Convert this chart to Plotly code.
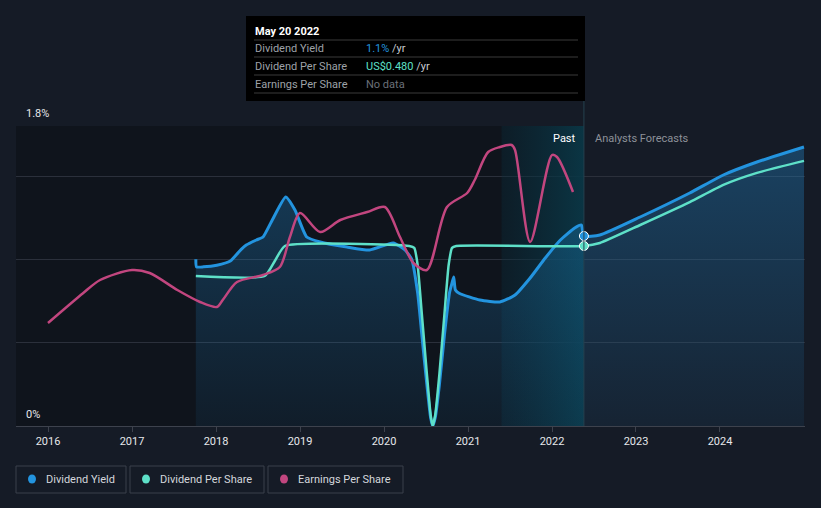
import plotly.graph_objects as go

# ---------------- data ----------------
years = [2016, 2017, 2018, 2019, 2020, 2021, 2022, 2023, 2024]
year_labels = [str(y) for y in years]

# Dividend Yield (%), past + forecast
dy_x = [2017.76, 2017.768, 2017.85, 2018.01, 2018.17, 2018.30, 2018.36, 2018.48, 2018.56,
        2018.67, 2018.83, 2018.94, 2019.08, 2019.24, 2019.56, 2019.83, 2020.11,
        2020.25, 2020.33, 2020.40, 2020.45, 2020.51, 2020.555, 2020.58, 2020.61,
        2020.66, 2020.72, 2020.78, 2020.81, 2020.83, 2020.85, 2020.90, 2021.14,
        2021.38, 2021.56, 2021.74, 2021.92, 2022.10, 2022.27, 2022.35, 2022.38,
        2022.57, 2023.05, 2023.64, 2024.04, 2024.44, 2025.0]
dy_y = [1.00, 0.955, 0.955, 0.965, 0.99, 1.06, 1.086, 1.116, 1.134,
        1.236, 1.374, 1.296, 1.134, 1.104, 1.074, 1.056, 1.098,
        1.056, 1.00, 0.80, 0.55, 0.25, 0.05, 0.0, 0.05,
        0.25, 0.55, 0.80, 0.858, 0.894, 0.816, 0.795, 0.756,
        0.744, 0.786, 0.888, 1.008, 1.116, 1.188, 1.206, 1.14,
        1.146, 1.254, 1.398, 1.506, 1.584, 1.674]

# Dividend Per Share (US$)
dps_x = [2017.76, 2018.58, 2018.70, 2018.82, 2020.30, 2020.36, 2020.40, 2020.45, 2020.51,
         2020.555, 2020.58, 2020.61, 2020.66, 2020.72, 2020.77, 2020.81, 2020.86, 2022.38,
         2022.57, 2023.05, 2023.64, 2024.04, 2024.44, 2025.0]
dps_y = [0.40, 0.40, 0.44, 0.48, 0.48, 0.475, 0.43, 0.30, 0.14,
         0.03, 0.0, 0.03, 0.14, 0.30, 0.43, 0.475, 0.48, 0.48,
         0.488, 0.536, 0.597, 0.643, 0.675, 0.707]

# Earnings Per Share (relative scale)
eps_x = [2016.0, 2016.42, 2016.62, 2017.0, 2017.21, 2017.54, 2017.81, 2018.01, 2018.08,
         2018.25, 2018.56, 2018.76, 2018.88, 2019.0, 2019.24, 2019.48, 2019.80, 2020.01,
         2020.19, 2020.35, 2020.51, 2020.75, 2020.99, 2021.08, 2021.24, 2021.38, 2021.52,
         2021.56, 2021.74, 2022.0, 2022.06, 2022.25]
eps_y = [0.618, 0.798, 0.876, 0.936, 0.918, 0.816, 0.744, 0.714, 0.756,
         0.864, 0.906, 0.954, 1.134, 1.278, 1.164, 1.236, 1.284, 1.314,
         1.134, 0.978, 0.936, 1.314, 1.398, 1.476, 1.644, 1.674, 1.686,
         1.656, 1.104, 1.626, 1.614, 1.404]

today = 2022.38
past_band_start = 2021.40
x_min, x_max = 2015.619, 2025.012

BLUE = "#2394df"
TEAL = "#5ee0c8"
PINK = "#c2467f"
BG = "#151b26"
PAST_BG = "#0f141c"

def PX(px):
    return (px - 16) / 789.0

def PY(py):
    return (426 - py) / 300.0

fig = go.Figure()

# past highlight band (gradient)
fig.add_trace(go.Scatter(
    x=[past_band_start, today, today, past_band_start, past_band_start],
    y=[0, 0, 1.8, 1.8, 0], mode="lines", line=dict(width=0),
    fill="toself",
    fillgradient=dict(type="horizontal",
                      colorscale=[[0, "rgba(10,45,60,0.35)"], [1, "rgba(10,55,70,0.95)"]]),
    hoverinfo="skip", showlegend=False))

# Dividend yield with gradient fill
fig.add_trace(go.Scatter(
    x=dy_x, y=dy_y, mode="lines", name="Dividend Yield",
    line=dict(color=BLUE, width=3, shape="spline", smoothing=0.5),
    fill="tozeroy",
    fillgradient=dict(type="vertical",
                      colorscale=[[0, "rgba(35,148,223,0.07)"], [1, "rgba(35,148,223,0.32)"]]),
    hoverinfo="skip", showlegend=False))

# EPS
fig.add_trace(go.Scatter(
    x=eps_x, y=eps_y, mode="lines", name="Earnings Per Share", yaxis="y3",
    line=dict(color=PINK, width=2.5, shape="spline", smoothing=0.8),
    hoverinfo="skip", showlegend=False))

# DPS
fig.add_trace(go.Scatter(
    x=dps_x, y=dps_y, mode="lines", name="Dividend Per Share", yaxis="y2",
    line=dict(color=TEAL, width=2.5, shape="spline", smoothing=0.5),
    hoverinfo="skip", showlegend=False))

# markers at today
fig.add_trace(go.Scatter(
    x=[today], y=[dy_y[dy_x.index(today)]], mode="markers",
    marker=dict(color=BLUE, size=9, line=dict(color="#ffffff", width=1)),
    hoverinfo="skip", showlegend=False))
fig.add_trace(go.Scatter(
    x=[today], y=[dps_y[dps_x.index(today)]], mode="markers", yaxis="y2",
    marker=dict(color=TEAL, size=9, line=dict(color="#ffffff", width=1)),
    hoverinfo="skip", showlegend=False))

shapes = []
# past dark background
shapes.append(dict(type="rect", xref="x", yref="paper", x0=x_min, x1=today, y0=0, y1=1,
                   fillcolor=PAST_BG, line=dict(width=0), layer="below"))
# today vertical line
shapes.append(dict(type="line", xref="x", yref="paper", x0=today, x1=today, y0=0, y1=PY(101),
                   line=dict(color="#25414f", width=1)))
# tooltip box
shapes.append(dict(type="rect", xref="paper", yref="paper", x0=PX(246), x1=PX(585),
                   y0=PY(101), y1=PY(16), fillcolor="#000000", line=dict(width=0)))
for sy in [40, 57, 75, 93]:
    shapes.append(dict(type="line", xref="paper", yref="paper", x0=PX(254), x1=PX(578),
                       y0=PY(sy), y1=PY(sy), line=dict(color="#3a3a3a", width=1)))

# legend boxes
legend_items = [
    ("Dividend Yield", BLUE, 16, 126, 32, 44),
    ("Dividend Per Share", TEAL, 130, 264, 146, 158),
    ("Earnings Per Share", PINK, 268, 403, 284, 296),
]
annotations = []
for label, col, bx0, bx1, dotx, tx in legend_items:
    shapes.append(dict(type="rect", xref="paper", yref="paper", x0=PX(bx0), x1=PX(bx1),
                       y0=PY(493), y1=PY(466), fillcolor=BG,
                       line=dict(color="#3b404b", width=1)))
    shapes.append(dict(type="circle", xref="paper", yref="paper", x0=PX(dotx - 4), x1=PX(dotx + 4),
                       y0=PY(479 + 4.5), y1=PY(479 - 4.5), fillcolor=col, line=dict(width=0)))
    annotations.append(dict(xref="paper", yref="paper", x=PX(tx), y=PY(479), text=label,
                            showarrow=False, xanchor="left", yanchor="middle",
                            font=dict(color="#d4d7dc", size=11)))

# tooltip text
annotations.append(dict(xref="paper", yref="paper", x=PX(253), y=PY(31), text="<b>May 20 2022</b>",
                        showarrow=False, xanchor="left", yanchor="middle",
                        font=dict(color="#ffffff", size=11)))
rows = [
    ("Dividend Yield", "<span style='color:%s'>1.1%%</span> /yr" % BLUE, 48),
    ("Dividend Per Share", "<span style='color:%s'>US$0.480</span> /yr" % TEAL, 66),
    ("Earnings Per Share", "<span style='color:#6b7079'>No data</span>", 84),
]
for lab, val, ry in rows:
    annotations.append(dict(xref="paper", yref="paper", x=PX(253), y=PY(ry), text=lab,
                            showarrow=False, xanchor="left", yanchor="middle",
                            font=dict(color="#9ea2a8", size=11)))
    annotations.append(dict(xref="paper", yref="paper", x=PX(364), y=PY(ry), text=val,
                            showarrow=False, xanchor="left", yanchor="middle",
                            font=dict(color="#c8cbd0", size=11)))

# y labels
annotations.append(dict(xref="paper", yref="paper", x=PX(24), y=PY(114), text="1.8%",
                        showarrow=False, xanchor="left", yanchor="middle",
                        font=dict(color="#e6e8eb", size=11)))
annotations.append(dict(xref="paper", yref="paper", x=PX(24), y=PY(414), text="0%",
                        showarrow=False, xanchor="left", yanchor="middle",
                        font=dict(color="#e6e8eb", size=11)))
# past / forecast labels
annotations.append(dict(xref="paper", yref="paper", x=PX(578), y=PY(138), text="Past",
                        showarrow=False, xanchor="right", yanchor="middle",
                        font=dict(color="#ffffff", size=11)))
annotations.append(dict(xref="paper", yref="paper", x=PX(593), y=PY(138), text="Analysts Forecasts",
                        showarrow=False, xanchor="left", yanchor="middle",
                        font=dict(color="#8d9199", size=11)))

fig.update_layout(
    width=821, height=508,
    margin=dict(l=16, r=16, t=126, b=82),
    paper_bgcolor=BG, plot_bgcolor=BG,
    font=dict(family="Roboto, sans-serif", color="#e0e3e8", size=11),
    showlegend=False,
    hovermode=False,
    xaxis=dict(range=[x_min, x_max], tickvals=years, ticktext=year_labels,
               showgrid=False, zeroline=False, showline=True, linecolor="#3d424d",
               linewidth=1, ticks="outside", ticklen=5, tickcolor="#3d424d",
               tickfont=dict(color="#e6e8eb", size=11), fixedrange=True),
    yaxis=dict(range=[0, 1.8], tickvals=[0, 0.5, 1.0, 1.5, 1.8], showticklabels=False,
               showgrid=True, gridcolor="#2b303b", gridwidth=1, zeroline=False, fixedrange=True),
    yaxis2=dict(range=[0, 0.8], overlaying="y", visible=False, fixedrange=True),
    yaxis3=dict(range=[0, 1.8], overlaying="y", visible=False, fixedrange=True),
    shapes=shapes,
    annotations=annotations,
)

fig.write_html("out.html", config={"displayModeBar": False},
               post_script="document.body.style.margin='0';document.body.style.background='%s';" % BG)
